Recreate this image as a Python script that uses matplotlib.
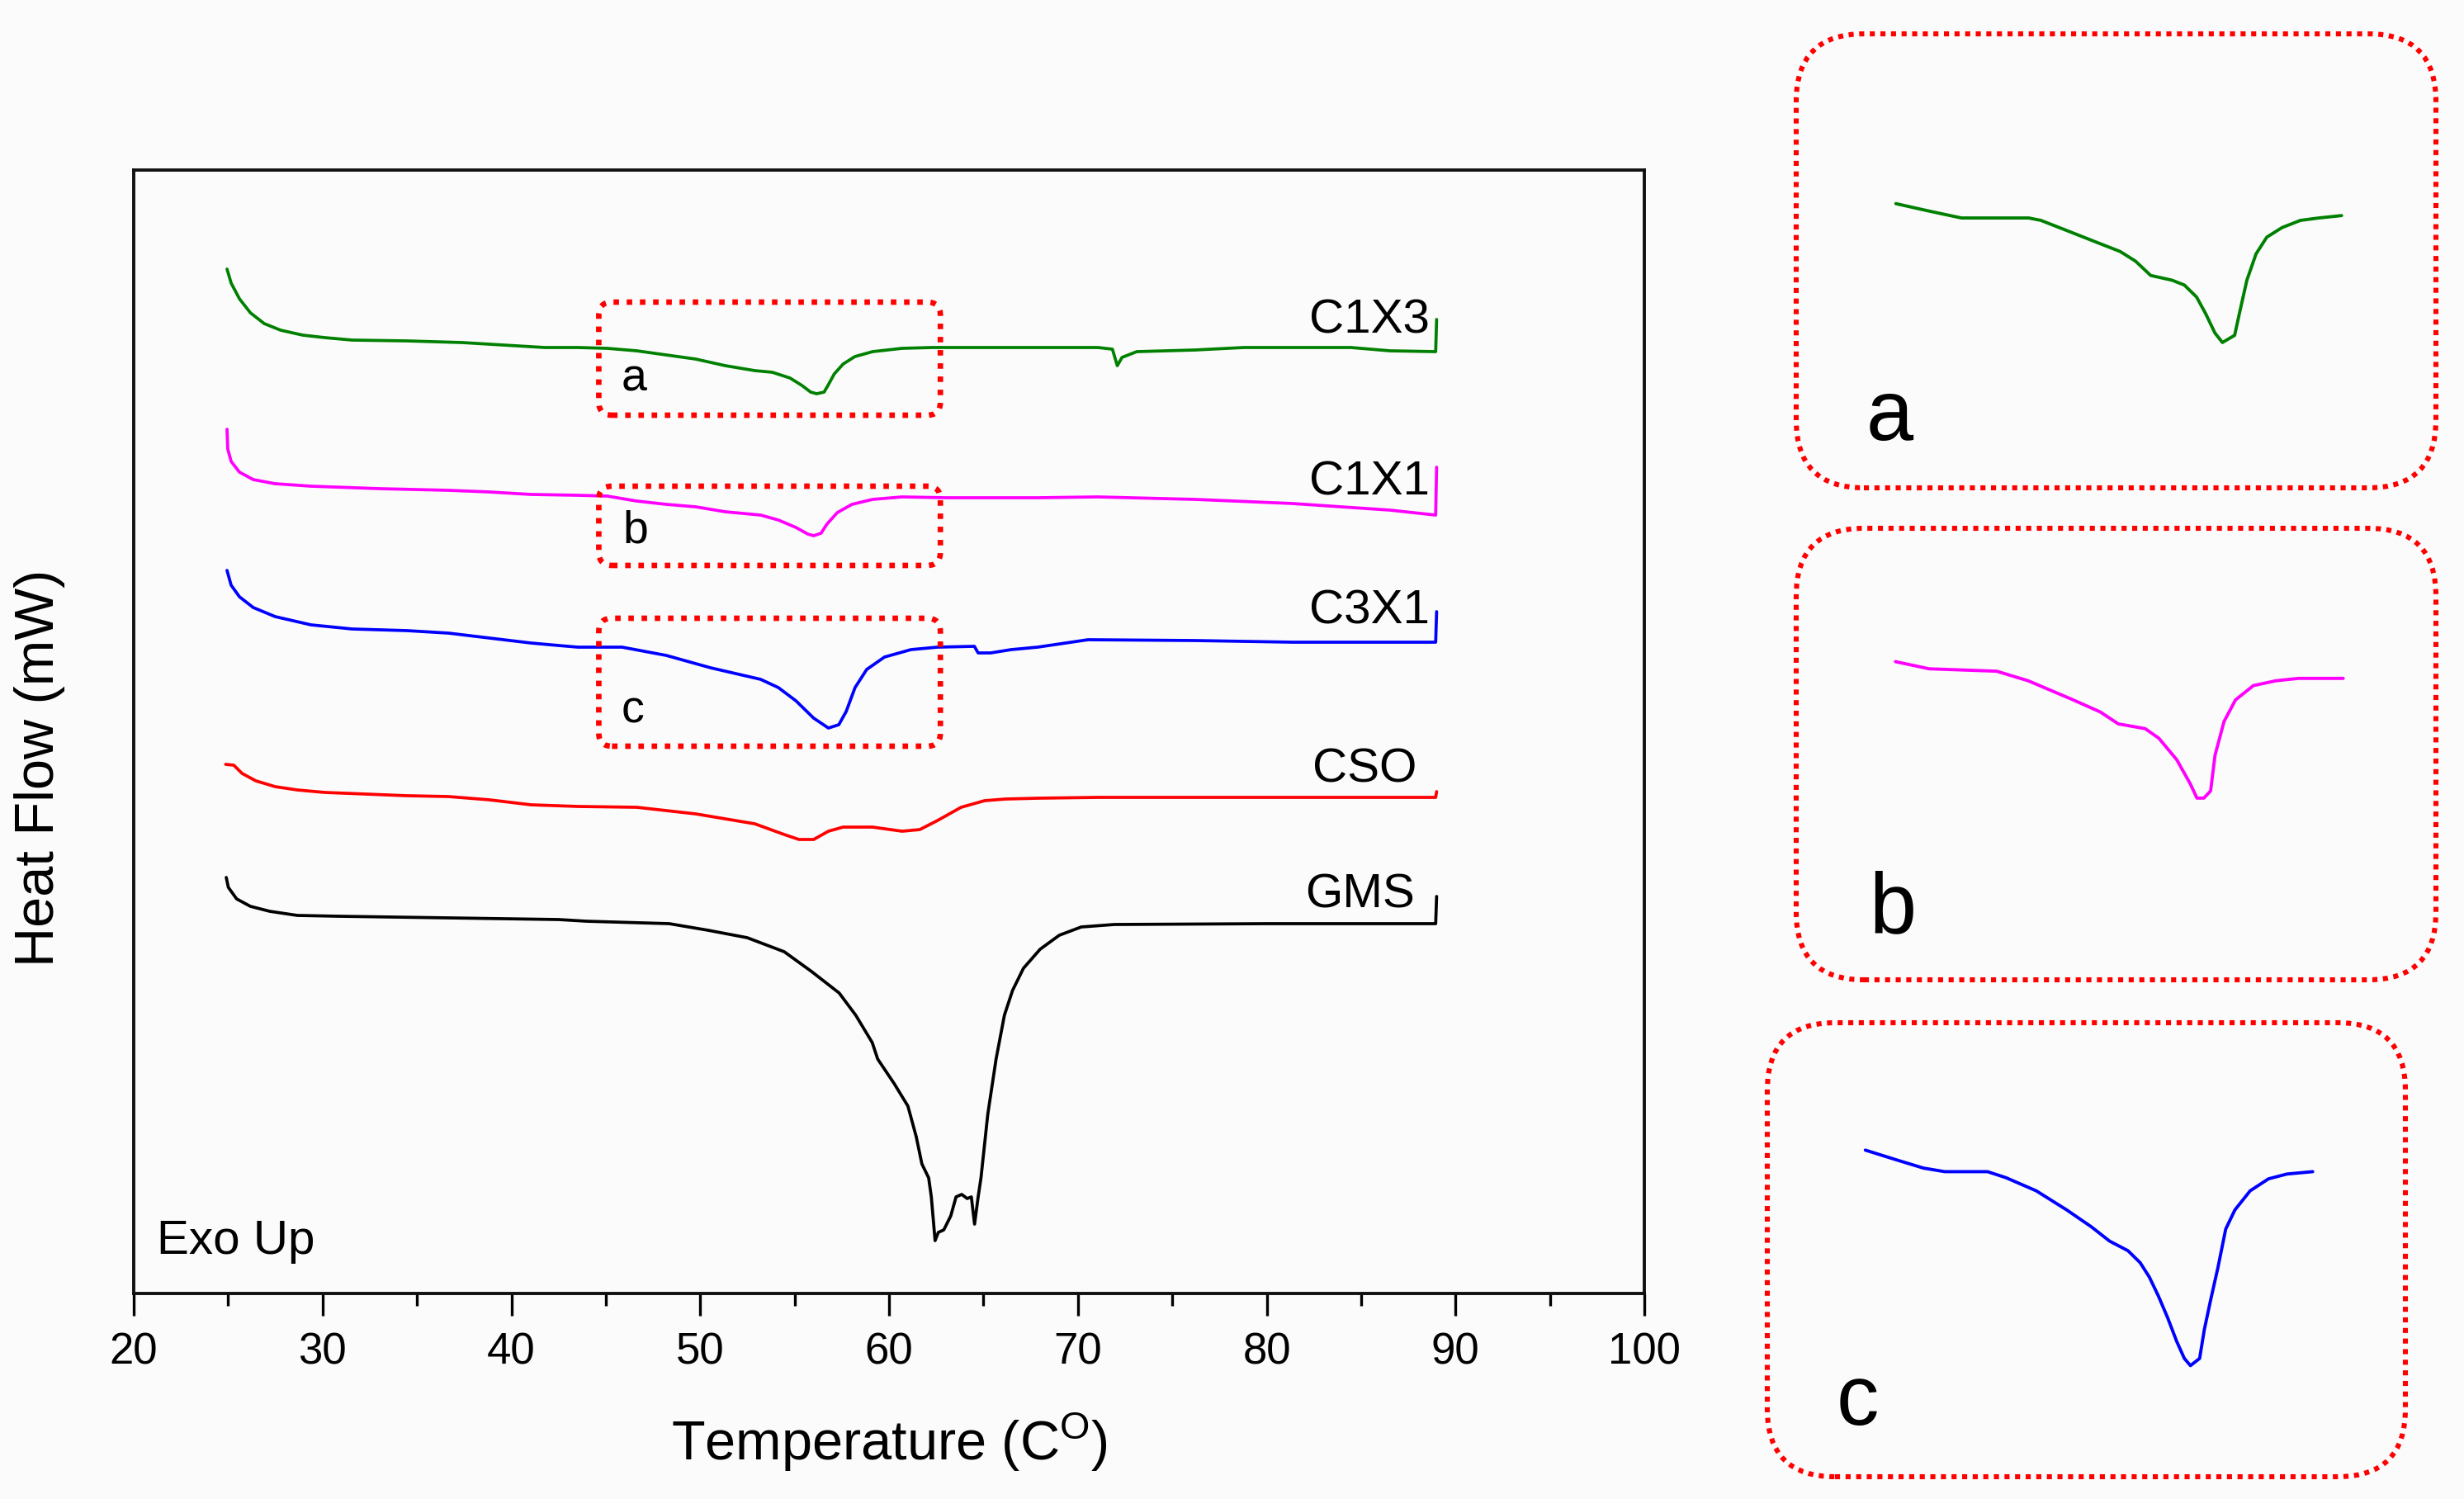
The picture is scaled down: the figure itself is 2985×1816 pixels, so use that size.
import matplotlib
matplotlib.use("Agg")
import matplotlib.pyplot as plt
from matplotlib.patches import FancyBboxPatch
from matplotlib.ticker import MultipleLocator

plt.rcParams['font.family'] = ['Liberation Sans', 'DejaVu Sans']
plt.rcParams['mathtext.default'] = 'regular'

# ---------------- data (main panel) ----------------
gms_T = [24.90, 25.01, 25.45, 26.18, 27.20, 28.66, 30.84, 33.76, 36.67, 39.58, 42.50, 43.96,
         48.36, 50.42, 52.49,
         54.45, 55.90, 57.36, 58.24, 59.11, 59.40, 60.28, 61.00, 61.44, 61.74, 62.10, 62.24,
         62.44, 62.61, 62.90, 63.27, 63.55, 63.85, 64.14, 64.36, 64.53, 64.72, 64.87, 65.23,
         65.67, 66.11, 66.54, 67.12, 68.00, 69.02, 70.18, 71.93, 80.00, 88.95, 89.00]
gms_hf = [5.04, 4.92, 4.78, 4.69, 4.63, 4.58, 4.57, 4.56, 4.55, 4.54, 4.53, 4.51,
          4.48, 4.40, 4.31,
          4.14, 3.90, 3.64, 3.37, 3.04, 2.84, 2.54, 2.27, 1.90, 1.57, 1.40, 1.17,
          0.64, 0.74, 0.77, 0.94, 1.17, 1.20, 1.15, 1.17, 0.84, 1.17, 1.40, 2.17,
          2.84, 3.37, 3.67, 3.94, 4.17, 4.34, 4.44, 4.47, 4.48, 4.48, 4.81]

cso_T = [24.87, 25.30, 25.74, 26.47, 27.49, 28.66, 30.11, 32.30, 34.48, 36.67, 38.85, 41.04,
         43.52, 46.64, 49.76, 52.89, 54.45, 55.23, 56.01, 56.79, 57.57, 59.13, 60.69, 61.63,
         62.57, 63.82, 65.06, 66.16, 67.87, 71.06, 80.00, 88.95, 89.00]
cso_hf = [6.41, 6.40, 6.30, 6.21, 6.14, 6.10, 6.07, 6.05, 6.03, 6.02, 5.98, 5.92,
          5.90, 5.89, 5.81, 5.69, 5.56, 5.50, 5.50, 5.60, 5.65, 5.65, 5.60, 5.62,
          5.73, 5.89, 5.97, 5.99, 6.00, 6.01, 6.01, 6.01, 6.08]

c3x1_T = [24.94, 25.16, 25.60, 26.33, 27.49, 29.39, 31.57, 34.48, 36.67, 38.85, 41.04, 42.50,
          43.52, 45.86, 48.20, 50.55, 53.20, 54.14, 55.07, 56.01, 56.79, 57.34, 57.73, 58.20,
          58.82, 59.76, 61.16, 62.57, 64.52, 64.72, 65.38, 66.47, 67.87, 70.54, 76.21, 81.37,
          88.95, 89.00]
c3x1_hf = [8.76, 8.58, 8.44, 8.31, 8.20, 8.10, 8.05, 8.03, 8.00, 7.94, 7.88, 7.85,
           7.83, 7.83, 7.73, 7.58, 7.44, 7.34, 7.18, 6.97, 6.85, 6.89, 7.05, 7.34,
           7.56, 7.71, 7.80, 7.83, 7.84, 7.76, 7.76, 7.80, 7.83, 7.92, 7.91, 7.89,
           7.89, 8.26]

c1x1_T = [24.94, 24.98, 25.16, 25.60, 26.33, 27.49, 29.39, 33.03, 36.67, 38.85, 41.04,
          43.52, 45.08, 46.64, 48.20, 49.76, 51.33, 53.20, 54.14, 55.07, 55.70, 56.01, 56.40,
          56.71, 57.26, 58.04, 59.13, 60.69, 63.04, 67.87, 71.06, 76.21, 81.37, 86.53,
          88.95, 89.00]
c1x1_hf = [10.47, 10.23, 10.08, 9.95, 9.86, 9.81, 9.78, 9.75, 9.73, 9.71, 9.68,
           9.67, 9.66, 9.60, 9.56, 9.53, 9.47, 9.43, 9.37, 9.28, 9.20, 9.18, 9.21,
           9.32, 9.46, 9.56, 9.62, 9.65, 9.64, 9.64, 9.65, 9.62, 9.57, 9.49,
           9.43, 10.01]

c1x3_T = [24.94, 25.16, 25.60, 26.18, 26.91, 27.78, 28.95, 30.11, 31.57, 34.48, 37.40, 39.58,
          41.77, 43.52, 45.08, 46.64, 48.20, 49.76, 51.33, 52.89, 53.82, 54.76, 55.39, 55.85,
          56.17, 56.56, 56.79, 57.10, 57.57, 58.19, 59.13, 60.69, 62.25, 67.87, 71.06, 71.83,
          72.09, 72.34, 73.12, 76.21, 78.79, 84.46, 86.53, 88.95, 89.00]
c1x3_hf = [12.41, 12.24, 12.05, 11.88, 11.75, 11.67, 11.61, 11.58, 11.55, 11.54, 11.52, 11.49,
           11.46, 11.46, 11.45, 11.42, 11.37, 11.32, 11.24, 11.18, 11.16, 11.09, 11.00, 10.92,
           10.90, 10.92, 11.01, 11.14, 11.26, 11.35, 11.41, 11.45, 11.46, 11.46, 11.46, 11.44,
           11.24, 11.34, 11.41, 11.43, 11.46, 11.46, 11.42, 11.41, 11.80]

series_names = ['C1X3', 'C1X1', 'C3X1', 'CSO', 'GMS']
series_colors = ['#008000', '#ff00ff', '#0000ff', '#ff0000', '#000000']

# ---------------- data (magnified panels) ----------------
inset_a_T = [40.03, 41.60, 43.25, 46.55, 47.15, 48.35, 49.84, 51.04, 51.79, 52.54, 53.59,
             54.19, 54.79, 55.24, 55.69, 56.06, 56.66, 56.89, 57.26, 57.71, 58.24, 58.99,
             59.89, 60.79, 61.91]
inset_a_hf = [11.48, 11.45, 11.42, 11.42, 11.41, 11.37, 11.32, 11.28, 11.24, 11.18, 11.16,
              11.14, 11.09, 11.02, 10.94, 10.90, 10.93, 11.02, 11.16, 11.27, 11.34, 11.38,
              11.41, 11.42, 11.43]

inset_b_T = [40.01, 41.67, 44.98, 46.53, 48.74, 50.06, 50.95, 52.27, 52.94, 53.82, 54.48,
             54.81, 55.15, 55.48, 55.70, 56.14, 56.70, 57.58, 58.68, 59.78, 61.99]
inset_b_hf = [9.70, 9.67, 9.66, 9.62, 9.54, 9.49, 9.44, 9.42, 9.38, 9.29, 9.19,
              9.13, 9.13, 9.16, 9.31, 9.45, 9.54, 9.60, 9.62, 9.63, 9.63]

inset_c_T = [39.95, 41.45, 42.80, 43.85, 45.95, 46.85, 48.34, 49.84, 51.04, 51.94, 52.84,
             53.44, 53.89, 54.34, 54.79, 55.24, 55.61, 55.91, 56.36, 56.59, 56.89, 57.26,
             57.64, 58.09, 58.84, 59.74, 60.64, 61.91]
inset_c_hf = [7.93, 7.89, 7.855, 7.84, 7.84, 7.815, 7.76, 7.68, 7.61, 7.55, 7.51,
              7.46, 7.40, 7.32, 7.23, 7.13, 7.06, 7.03, 7.06, 7.18, 7.30, 7.44,
              7.60, 7.68, 7.76, 7.81, 7.83, 7.84]

x_ticks = [20, 30, 40, 50, 60, 70, 80, 90, 100]
box_letters = ['a', 'b', 'c']

# ---------------- figure ----------------
W, H, DPI = 2985, 1816, 200
bg = '#fbfbfb'
fig = plt.figure(figsize=(W / DPI, H / DPI), dpi=DPI, facecolor=bg)


def fr(x0, y0, x1, y1):
    """pixel box (top-left origin) -> figure fraction rect"""
    return [x0 / W, 1 - y1 / H, (x1 - x0) / W, (y1 - y0) / H]


ax = fig.add_axes(fr(162, 206, 1992, 1567))
ax.set_facecolor(bg)
XL, YL = (20, 100), (0, 13.61)
ax.set_xlim(*XL)
ax.set_ylim(*YL)

data = [(c1x3_T, c1x3_hf), (c1x1_T, c1x1_hf), (c3x1_T, c3x1_hf), (cso_T, cso_hf), (gms_T, gms_hf)]
for (t, h), c in zip(data, series_colors):
    ax.plot(t, h, color=c, lw=1.35, solid_joinstyle='round', solid_capstyle='round')

# curve labels
label_pos = [(88.65, 11.64), (88.65, 9.67), (88.65, 8.11), (87.95, 6.19), (87.85, 4.67)]
for name, (lx, ly) in zip(series_names, label_pos):
    ax.text(lx, ly, name, ha='right', va='baseline', fontsize=21, color='black')

ax.text(0.0153, 0.0353, 'Exo Up', transform=ax.transAxes, ha='left', va='baseline', fontsize=21)

# dotted boxes on main plot
ax_w_px = 1830
ax_h_px = 1361
m_aspect = (ax_w_px / (XL[1] - XL[0])) / (ax_h_px / (YL[1] - YL[0]))
main_boxes = [(44.63, 10.64, 62.72, 12.01), (44.63, 8.82, 62.72, 9.78), (44.63, 6.63, 62.72, 8.18)]
letter_pos = [(45.80, 10.93), (45.90, 9.09), (45.80, 6.92)]
r_main = 16 / (ax_w_px / (XL[1] - XL[0]))
for (x0, y0, x1, y1), let, (lx, ly) in zip(main_boxes, box_letters, letter_pos):
    p = FancyBboxPatch((x0, y0), x1 - x0, y1 - y0,
                       boxstyle=f"round,pad=0,rounding_size={r_main}",
                       mutation_aspect=m_aspect, fill=False, edgecolor='#ff0000',
                       lw=2.4, linestyle=(0, (1, 1.4)), capstyle='butt', zorder=3)
    ax.add_patch(p)
    ax.text(lx, ly, let, ha='left', va='baseline', fontsize=20)

# axes styling
for s in ax.spines.values():
    s.set_linewidth(1.4)
    s.set_color('#111111')
ax.xaxis.set_minor_locator(MultipleLocator(5))
ax.set_xticks(x_ticks)
ax.set_xticklabels([str(v) for v in x_ticks])
ax.tick_params(axis='x', which='major', direction='out', length=9.7, width=1.2,
               labelsize=19, pad=7, top=False)
ax.tick_params(axis='x', which='minor', direction='out', length=5.4, width=1.2, top=False)
ax.tick_params(axis='y', which='both', left=False, right=False, labelleft=False)

ax.set_xlabel('Temperature (C$^{O}$)', fontsize=24, va='baseline')
ax.xaxis.set_label_coords(0.5, (1567 - 1769) / 1361)
ax.set_ylabel('Heat Flow (mW)', fontsize=24, va='center', ha='center')
ax.yaxis.set_label_coords((48 - 162) / 1830, (1567 - 930) / 1361)

# ---------------- magnified panels ----------------
panels = [
    dict(box=(2176, 41, 2951, 591), T=inset_a_T, hf=inset_a_hf, color='#008000',
         xlim=(35.14, 66.54), ylim=(10.293, 12.189), letter=(2261, 533)),
    dict(box=(2176, 640, 2951, 1187), T=inset_b_T, hf=inset_b_hf, color='#ff00ff',
         xlim=(35.14, 66.54), ylim=(8.371, 10.257), letter=(2264, 1129)),
    dict(box=(2141, 1239, 2914, 1789), T=inset_c_T, hf=inset_c_hf, color='#0000ff',
         xlim=(35.14, 66.46), ylim=(6.566, 8.462), letter=(2225, 1726)),
]
for pnl, let in zip(panels, box_letters):
    x0, y0, x1, y1 = pnl['box']
    iax = fig.add_axes(fr(x0, y0, x1, y1))
    iax.set_facecolor('none')
    iax.set_xlim(*pnl['xlim'])
    iax.set_ylim(*pnl['ylim'])
    iax.plot(pnl['T'], pnl['hf'], color=pnl['color'], lw=1.4,
             solid_joinstyle='round', solid_capstyle='round')
    iax.set_axis_off()
    wpx, hpx = x1 - x0, y1 - y0
    r = 82 / wpx
    border = FancyBboxPatch((0, 0), 1, 1, boxstyle=f"round,pad=0,rounding_size={r}",
                            mutation_aspect=wpx / hpx, transform=iax.transAxes,
                            fill=False, edgecolor='#ff0000', lw=2.2,
                            linestyle=(0, (1, 1.1)), capstyle='butt', clip_on=False)
    iax.add_patch(border)
    lx, ly = pnl['letter']
    fig.text(lx / W, 1 - ly / H, let, ha='left', va='baseline', fontsize=37)

fig.savefig('out.png', dpi=DPI, facecolor=bg)
